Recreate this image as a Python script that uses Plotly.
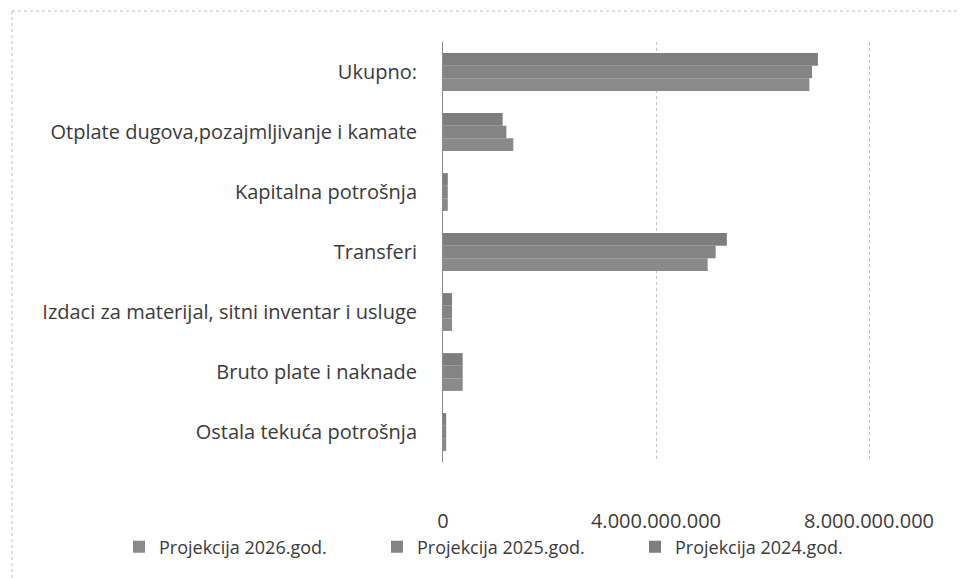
import plotly.graph_objects as go

categories = [
    "Ostala tekuća potrošnja",
    "Bruto plate i naknade",
    "Izdaci za materijal, sitni inventar i usluge",
    "Transferi",
    "Kapitalna potrošnja",
    "Otplate dugova,pozajmljivanje i kamate",
    "Ukupno:",
]
series_names = ["Projekcija 2026.god.", "Projekcija 2025.god.", "Projekcija 2024.god."]
values_2026 = [0.06e9, 0.37e9, 0.17e9, 4.97e9, 0.09e9, 1.32e9, 6.88e9]
values_2025 = [0.06e9, 0.37e9, 0.17e9, 5.12e9, 0.09e9, 1.19e9, 6.93e9]
values_2024 = [0.06e9, 0.37e9, 0.17e9, 5.33e9, 0.09e9, 1.12e9, 7.04e9]
tick_vals = [0, 4e9, 8e9]
tick_text = ["0", "4.000.000.000", "8.000.000.000"]

colors = ["#8a8a8a", "#848484", "#7e7e7e"]
font_family = "Open Sans, Noto Sans, sans-serif"
text_color = "#3a3a3a"

fig = go.Figure()
for name, vals, col in zip(series_names, [values_2026, values_2025, values_2024], colors):
    fig.add_trace(go.Bar(
        y=categories, x=vals, name=name, orientation="h",
        marker=dict(color=col, line=dict(width=0)),
        hoverinfo="skip",
    ))

W, H = 960, 578
L, R, T, B = 443, 880, 42, 462
x_max = 8e9 * (R - L) / (869 - L)  # 8.000.000.000 gridline sits at x=869px
fig.update_layout(
    width=W, height=H,
    margin=dict(l=L, r=W - R, t=T, b=H - B, pad=0, autoexpand=False),
    paper_bgcolor="white", plot_bgcolor="white",
    barmode="group", bargap=0.37, bargroupgap=0,
    font=dict(family=font_family, color=text_color, size=20),
    showlegend=True,
    legend=dict(
        orientation="h", x=(119 - L) / (R - L), xanchor="left",
        y=-(547 - B) / (B - T), yanchor="middle",
        font=dict(size=18, color=text_color),
        entrywidth=213, entrywidthmode="pixels",
        itemwidth=30, traceorder="normal",
        bgcolor="rgba(0,0,0,0)",
    ),
    xaxis=dict(
        range=[0, x_max], tickvals=tick_vals, ticktext=tick_text,
        showgrid=True, gridcolor="#c4c4c4", griddash="dot", gridwidth=1,
        zeroline=False, showline=False, ticks="",
        tickfont=dict(size=20, color=text_color),
        ticklabelstandoff=45, automargin=False, fixedrange=True,
    ),
    yaxis=dict(
        categoryorder="array", categoryarray=categories,
        showgrid=False, zeroline=False,
        showline=True, linecolor="#8a8a8a", linewidth=1,
        ticks="", tickfont=dict(size=20, color=text_color),
        ticklabelstandoff=21, automargin=False, fixedrange=True,
    ),
)

# chart frame (top and left edges, dotted)
fx0 = (12 - L) / (R - L)
fx1 = (958 - L) / (R - L)
fy_top = (B - 11) / (B - T)
fy_bot = (B - 578) / (B - T)
fig.add_shape(type="line", xref="paper", yref="paper", x0=fx0, x1=fx1, y0=fy_top, y1=fy_top,
              line=dict(color="#bdbdbd", width=1, dash="dot"))
fig.add_shape(type="line", xref="paper", yref="paper", x0=fx0, x1=fx0, y0=fy_top, y1=fy_bot,
              line=dict(color="#bdbdbd", width=1, dash="dot"))

fig.write_html(
    "out.html",
    config={"displayModeBar": False, "staticPlot": True},
    post_script="document.body.style.margin='0';document.body.style.overflow='hidden';",
)
